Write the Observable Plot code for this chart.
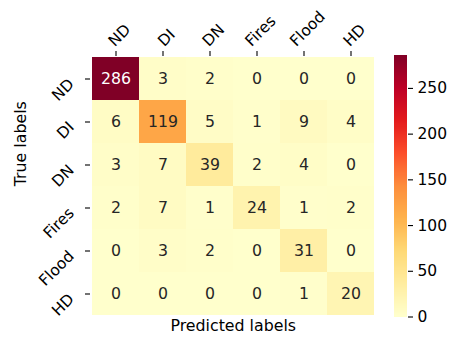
<!DOCTYPE html>
<html>
<head>
<meta charset="utf-8">
<script src="https://cdn.jsdelivr.net/npm/d3@7"></script>
<script src="https://cdn.jsdelivr.net/npm/@observablehq/plot@0.6"></script>
<style>
  html, body { margin: 0; padding: 0; background: #fff; }
  #chart { position: relative; width: 454px; height: 343px; font-family: "DejaVu Sans", sans-serif; }
  #chart svg { position: absolute; top: 0; }
</style>
</head>
<body>
<div id="chart"></div>
<script>
// Class names, in the order used on both axes
const labels = ["ND", "DI", "DN", "Fires", "Flood", "HD"];
// Rows: true class, columns: predicted class
const counts = [
  [286,   3,  2,  0,  0,  0],
  [  6, 119,  5,  1,  9,  4],
  [  3,   7, 39,  2,  4,  0],
  [  2,   7,  1, 24,  1,  2],
  [  0,   3,  2,  0, 31,  0],
  [  0,   0,  0,  0,  1, 20]
];
const colorTicks = [0, 50, 100, 150, 200, 250];
const xTitle = "Predicted labels";
const yTitle = "True labels";

// YlOrRd control colours, linearly interpolated
const palette = ["#ffffcc", "#ffeda0", "#fed976", "#feb24c", "#fd8d3c", "#fc4e2a", "#e31a1c", "#bd0026", "#800026"];

const W = 454, H = 343;
const FS = 15.5;      // tick labels
const FS_ANN = 15.75; // cell annotations
const FS_TITLE = 15.8;
const M = {top: 55, right: 78.5, bottom: 26.5, left: 90};
const K = Math.SQRT1_2;
const ASC = 0.76 * FS, DESC = 0.236 * FS, BASE = 0.32 * FS;

const vmax = d3.max(counts.flat());
const cells = counts.flatMap((row, i) => row.map((v, j) => ({truth: labels[i], pred: labels[j], v})));

const colorScale = {
  type: "linear",
  domain: palette.map((_, k) => vmax * k / (palette.length - 1)),
  range: palette,
  interpolate: "rgb"
};

// Annotation colour follows the luminance of the cell colour
const ramp = d3.piecewise(d3.interpolateRgb, palette);
function luminance(c) {
  const {r, g, b} = d3.rgb(c);
  const f = (x) => { x /= 255; return x <= 0.03928 ? x / 12.92 : ((x + 0.055) / 1.055) ** 2.4; };
  return 0.2126 * f(r) + 0.7152 * f(g) + 0.0722 * f(b);
}
const textColor = (v) => luminance(ramp(v / vmax)) > 0.408 ? "#262626" : "#ffffff";

// Measure label widths for the rotated column labels
const ctx = document.createElement("canvas").getContext("2d");
ctx.font = `${FS}px "DejaVu Sans"`;
const tw = (s) => ctx.measureText(s).width;

// Column labels above the ticks, rotated 45°, centred on each tick
const topLabels = labels.map((c) => {
  const w = tw(c);
  return Plot.text([c], {
    x: (d) => d, frameAnchor: "top", text: (d) => d,
    rotate: -45, textAnchor: "start", fontSize: FS, fill: "black",
    dx: -(K / 2) * (w + DESC - ASC) - K * BASE,
    dy: -10 - K * DESC - K * BASE
  });
});

const main = Plot.plot({
  width: W, height: H,
  marginTop: M.top, marginRight: M.right, marginBottom: M.bottom, marginLeft: M.left,
  style: {fontFamily: "DejaVu Sans", fontSize: FS + "px", color: "black", background: "transparent"},
  x: {domain: labels, padding: 0},
  y: {domain: labels, padding: 0},
  color: colorScale,
  marks: [
    Plot.cell(cells, {x: "pred", y: "truth", fill: "v", inset: 0, shapeRendering: "crispEdges"}),
    Plot.text(cells, {x: "pred", y: "truth", text: (d) => String(d.v), fill: (d) => textColor(d.v), fontSize: FS_ANN}),
    Plot.axisX({anchor: "top", tickSize: 5, tickFormat: () => "", label: null, strokeWidth: 1.1}),
    Plot.axisY({anchor: "left", tickSize: 5, tickFormat: () => "", label: null, strokeWidth: 1.1}),
    ...topLabels,
    // Row labels hang down-left from a point left of each tick, rotated 45°
    Plot.text(labels, {
      y: (d) => d, frameAnchor: "left", text: (d) => d,
      rotate: -45, textAnchor: "end", fontSize: FS, fill: "black",
      dx: -19, dy: 2.5
    }),
    Plot.text([xTitle], {frameAnchor: "bottom", text: (d) => d, fontSize: FS_TITLE, fill: "black", dy: 13.9}),
    Plot.text([yTitle], {frameAnchor: "left", text: (d) => d, fontSize: FS_TITLE, fill: "black", rotate: -90, dx: -69.1})
  ]
});
main.style.left = "0px";

// Colour bar: thin slices of the same colour scale
const slices = d3.range(256).map((i) => ({lo: vmax * i / 256, hi: vmax * (i + 1) / 256}));
const bar = Plot.plot({
  width: 60, height: H,
  marginTop: M.top, marginBottom: M.bottom, marginLeft: 0, marginRight: 47,
  style: {fontFamily: "DejaVu Sans", fontSize: FS + "px", color: "black", background: "transparent"},
  y: {domain: [0, vmax]},
  color: colorScale,
  marks: [
    Plot.rect(slices, {y1: "lo", y2: "hi", fill: (d) => (d.lo + d.hi) / 2, shapeRendering: "crispEdges"}),
    Plot.axisY({anchor: "right", ticks: colorTicks, tickSize: 5, tickPadding: 5, fontSize: FS, label: null, strokeWidth: 1.1})
  ]
});
bar.style.left = "394px";

const root = document.getElementById("chart");
root.appendChild(main);
root.appendChild(bar);
</script>
</body>
</html>
